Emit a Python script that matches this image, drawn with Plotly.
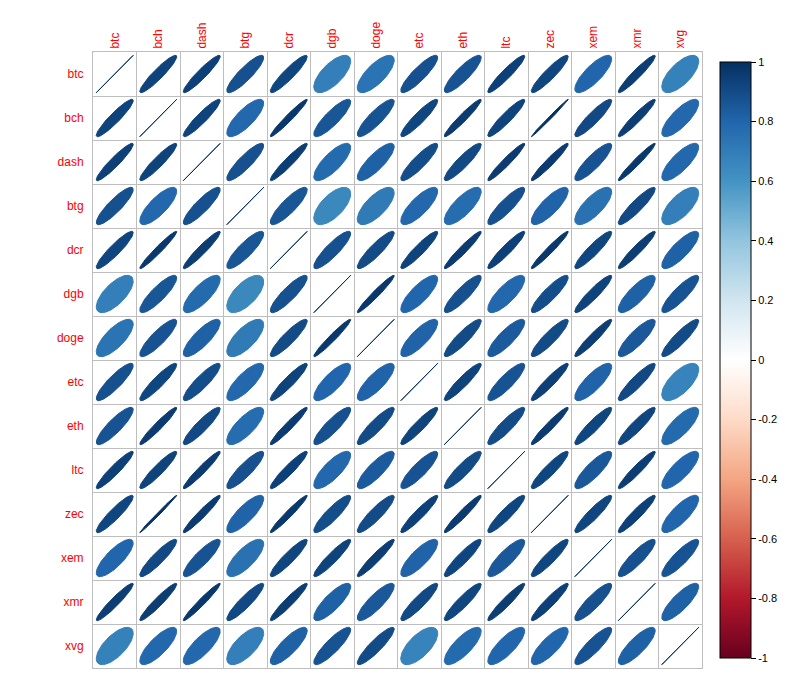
import numpy as np
import plotly.graph_objects as go
from plotly.colors import sample_colorscale

labels = ["btc", "bch", "dash", "btg", "dcr", "dgb", "doge", "etc", "eth", "ltc", "zec", "xem", "xmr", "xvg"]

# upper triangle correlations (row i, columns i+1..)
r_btc  = [0.93, 0.94, 0.88, 0.92, 0.69, 0.74, 0.88, 0.87, 0.94, 0.92, 0.80, 0.95, 0.68]
r_bch  = [0.93, 0.79, 0.97, 0.86, 0.87, 0.92, 0.96, 0.93, 0.995, 0.91, 0.95, 0.79]
r_dash = [0.88, 0.95, 0.78, 0.82, 0.89, 0.91, 0.96, 0.96, 0.87, 0.97, 0.79]
r_btg  = [0.86, 0.65, 0.71, 0.79, 0.77, 0.88, 0.81, 0.75, 0.91, 0.69]
r_dcr  = [0.88, 0.90, 0.93, 0.96, 0.94, 0.97, 0.92, 0.95, 0.82]
r_dgb  = [0.97, 0.80, 0.88, 0.79, 0.89, 0.93, 0.82, 0.87]
r_doge = [0.81, 0.90, 0.84, 0.90, 0.95, 0.85, 0.90]
r_etc  = [0.93, 0.87, 0.94, 0.81, 0.91, 0.67]
r_eth  = [0.90, 0.96, 0.92, 0.92, 0.78]
r_ltc  = [0.92, 0.85, 0.95, 0.80]
r_zec  = [0.92, 0.94, 0.80]
r_xem  = [0.88, 0.87]
r_xmr  = [0.82]
upper_rows = [r_btc, r_bch, r_dash, r_btg, r_dcr, r_dgb, r_doge, r_etc, r_eth, r_ltc, r_zec, r_xem, r_xmr]

cb_ticks = [-1, -0.8, -0.6, -0.4, -0.2, 0, 0.2, 0.4, 0.6, 0.8, 1]
cb_text = ["-1", "-0.8", "-0.6", "-0.4", "-0.2", "0", "0.2", "0.4", "0.6", "0.8", "1"]

n = len(labels)
M = np.eye(n)
for i, row in enumerate(upper_rows):
    for k, v in enumerate(row):
        j = i + 1 + k
        M[i, j] = v
        M[j, i] = v

rdbu = ["#67001F", "#B2182B", "#D6604D", "#F4A582", "#FDDBC7", "#FFFFFF",
        "#D1E5F0", "#92C5DE", "#4393C3", "#2166AC", "#053061"]
cscale = [[k / 10, c] for k, c in enumerate(rdbu)]

fig = go.Figure()
t = np.linspace(0, 2 * np.pi, 99)
for i in range(n):
    for j in range(n):
        rho = M[i, j]
        d = np.arccos(np.clip(rho, -1, 1))
        ex = 0.85 * np.cos(t + d / 2) / 2
        ey = 0.85 * np.cos(t - d / 2) / 2
        col = sample_colorscale(cscale, [(rho + 1) / 2])[0]
        fig.add_trace(go.Scatter(
            x=(j + 1) + ex, y=(i + 1) - ey, mode="lines", fill="toself",
            fillcolor=col, line=dict(color=col, width=1),
            hoverinfo="skip", showlegend=False))

fig.add_trace(go.Scatter(
    x=[1], y=[1], mode="markers",
    marker=dict(size=0.1, opacity=0, color=[0], cmin=-1, cmax=1, colorscale=cscale,
                showscale=True,
                colorbar=dict(x=1.013, xanchor="left", y=0.5, yanchor="middle",
                              len=1.0, lenmode="fraction", thickness=31,
                              outlinecolor="black", outlinewidth=1,
                              tickvals=cb_ticks, ticktext=cb_text,
                              ticks="outside", ticklen=5, tickcolor="black",
                              tickfont=dict(size=11, color="black",
                                            family="Liberation Sans, Arial")),
                ),
    hoverinfo="skip", showlegend=False))

gridc = "#BEBEBE"
fig.update_xaxes(range=[0.5, n + 0.5], side="top", tickvals=list(range(1, n + 1)),
                 ticktext=labels, tickangle=-90, showgrid=False, zeroline=False,
                 showline=True, mirror=True, linecolor=gridc, linewidth=1,
                 ticks="", tickfont=dict(color="red", size=12, family="Liberation Sans, Arial"),
                 minor=dict(tick0=0.5, dtick=1, showgrid=True, gridcolor=gridc, gridwidth=1))
fig.update_yaxes(range=[n + 0.5, 0.5], tickvals=list(range(1, n + 1)),
                 ticktext=labels, showgrid=False, zeroline=False,
                 showline=True, mirror=True, linecolor=gridc, linewidth=1,
                 ticks="", ticklabelstandoff=6,
                 tickfont=dict(color="red", size=12, family="Liberation Sans, Arial"),
                 minor=dict(tick0=0.5, dtick=1, showgrid=True, gridcolor=gridc, gridwidth=1))

fig.update_layout(width=800, height=700, margin=dict(l=93, r=90, t=52, b=32),
                  plot_bgcolor="white", paper_bgcolor="white")

fig.write_html("out.html")
